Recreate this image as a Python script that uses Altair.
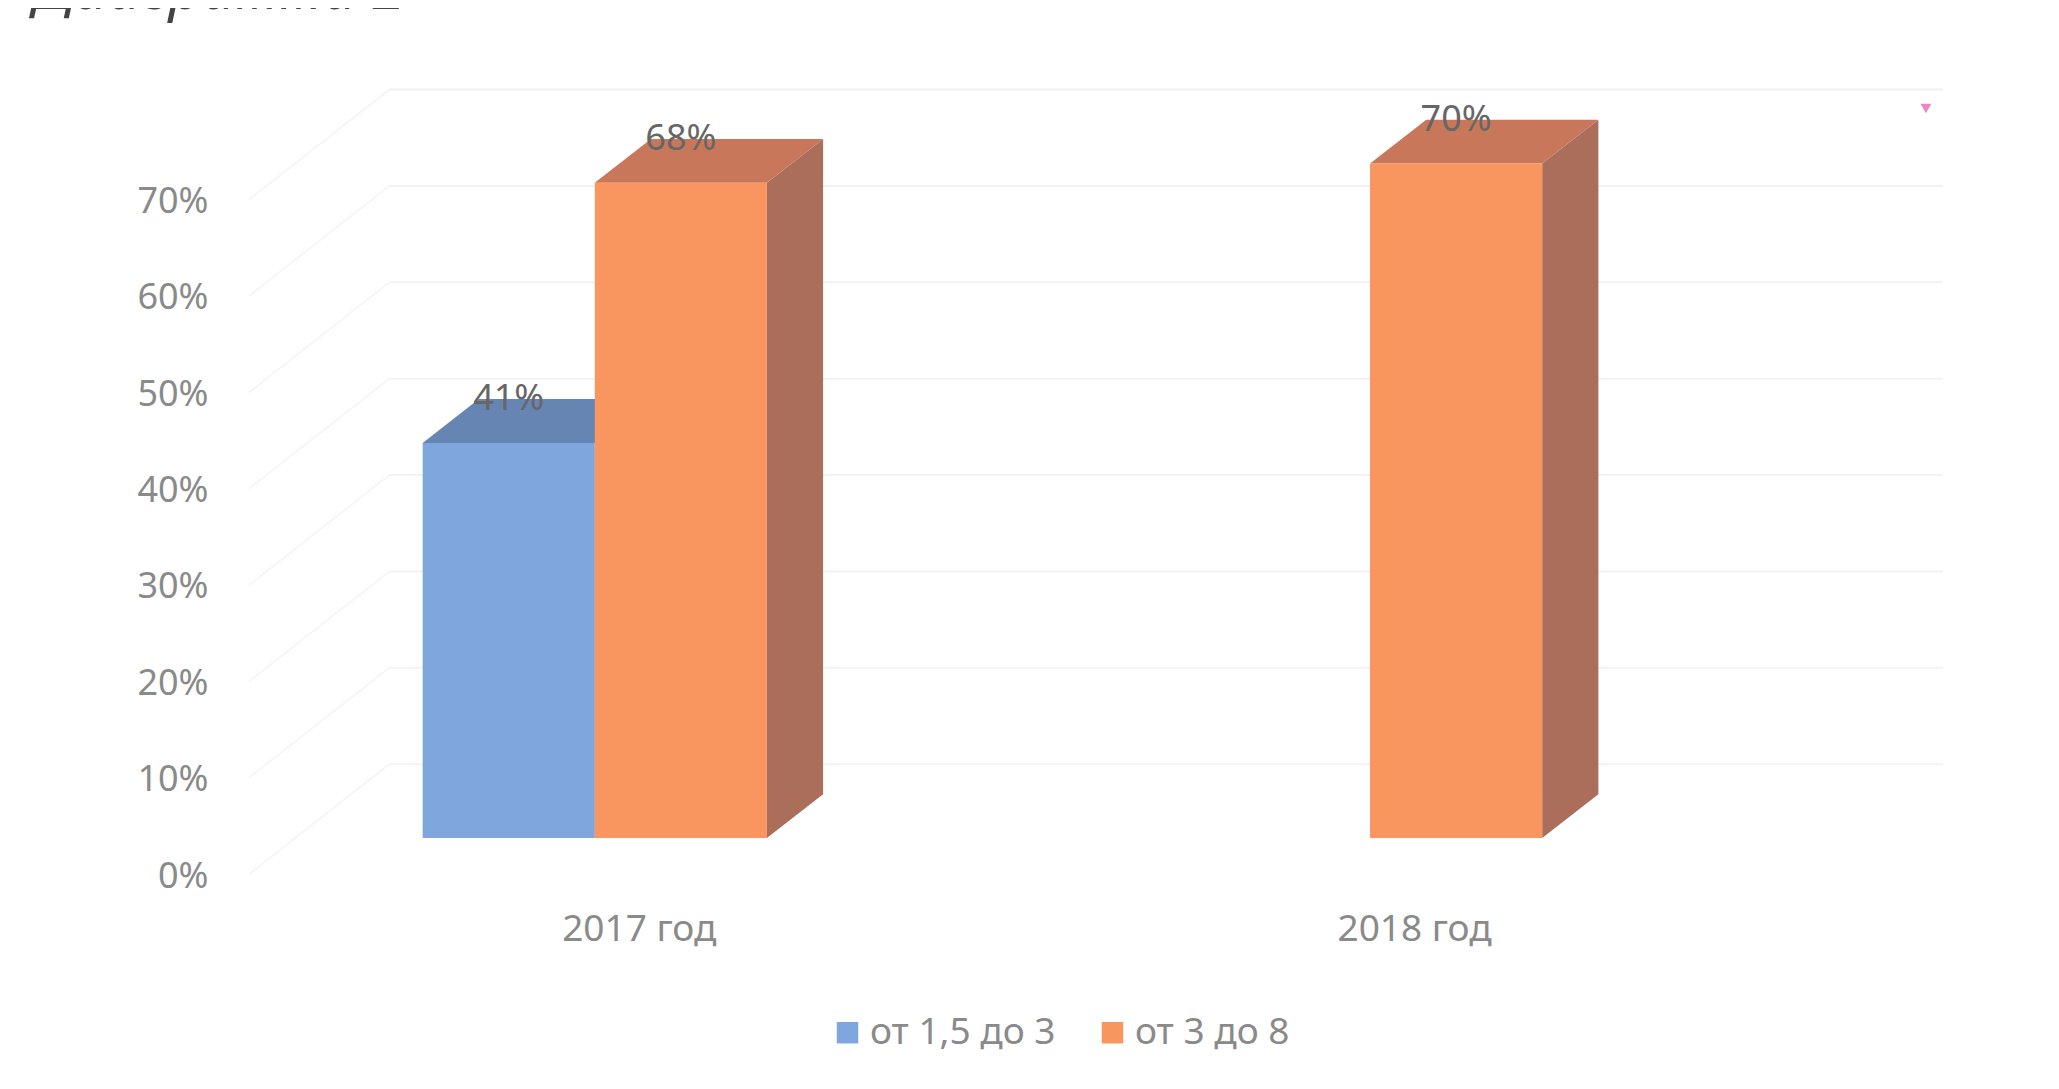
import altair as alt
import pandas as pd

years = ["2017 год", "2018 год"]
series = ["от 1,5 до 3", "от 3 до 8"]
values_a = [41, None]
values_b = [68, 70]
y_ticks = [0, 10, 20, 30, 40, 50, 60, 70]
title_text = "Диаграмма 2"
speck_x = [1.717]
speck_y = [75.7]

front_colors = ["#7fa7de", "#f9955f"]
top_colors = {"от 1,5 до 3": "#6685b2", "от 3 до 8": "#c9775a"}
side_colors = {"от 1,5 до 3": "#6685b2", "от 3 до 8": "#ab6e5a"}

# projection of the 3D box, in axis units
BAR_W = 0.222
DEPTH_X = 0.0725
DEPTH_Y = 4.55
WALL_FRONT_X = -0.446
WALL_BACK_X = -0.265
WALL_RIGHT_X = 1.739
WALL_FRONT_Y = -3.75
WALL_BACK_Y = 7.67

bars, tops, sides = [], [], []
for s_i, (name, vals) in enumerate(zip(series, [values_a, values_b])):
    for y_i, v in enumerate(vals):
        if v is None:
            continue
        l = y_i - BAR_W + s_i * BAR_W
        r = l + BAR_W
        key = f"{name}-{y_i}"
        bars.append(dict(series=name, l=l, r=r, v=v, c=(l + r) / 2, label=f"{v}%", base=0))
        tops += [
            dict(key=key, series=name, y=v, x=l, x2=r),
            dict(key=key, series=name, y=v + DEPTH_Y, x=l + DEPTH_X, x2=r + DEPTH_X),
        ]
        sides += [
            dict(key=key, series=name, x=r, y=0, y2=v),
            dict(key=key, series=name, x=r + DEPTH_X, y=DEPTH_Y, y2=v + DEPTH_Y),
        ]

bars = pd.DataFrame(bars)
tops = pd.DataFrame(tops)
sides = pd.DataFrame(sides)

grid = pd.DataFrame([dict(y=t + WALL_BACK_Y, x=WALL_BACK_X, x2=WALL_RIGHT_X) for t in y_ticks])
diag = pd.DataFrame(
    [dict(t=t, x=WALL_FRONT_X, y=t + WALL_FRONT_Y) for t in y_ticks]
    + [dict(t=t, x=WALL_BACK_X, y=t + WALL_BACK_Y) for t in y_ticks]
)

x_scale = alt.Scale(domain=[WALL_FRONT_X, WALL_RIGHT_X], nice=False, zero=False)
y_scale = alt.Scale(domain=[-6.43, 86.14], nice=False, zero=False)
FONT = "Noto Sans"

x_axis = alt.Axis(
    values=[0, 1],
    title=None,
    grid=False,
    domain=False,
    ticks=False,
    labelFont=FONT,
    labelFontSize=37,
    labelColor="#8a8a8a",
    labelPadding=11,
    labelOffset=44,
    labelExpr=f"datum.value == 0 ? '{years[0]}' : '{years[1]}'",
)
y_axis = alt.Axis(
    values=y_ticks,
    title=None,
    grid=False,
    domain=False,
    ticks=False,
    labelFont=FONT,
    labelFontSize=36,
    labelColor="#8a8a8a",
    labelPadding=41,
    labelOffset=38,
    labelExpr="datum.value + '%'",
)

X = lambda f="x": alt.X(f + ":Q", scale=x_scale, axis=x_axis)
Y = lambda f="y": alt.Y(f + ":Q", scale=y_scale, axis=y_axis)

grid_layer = alt.Chart(grid).mark_rule(color="#f2f2f2", strokeWidth=2).encode(
    x=X(), x2="x2:Q", y=Y()
)
diag_layer = alt.Chart(diag).mark_line(color="#f6f6f6", strokeWidth=2).encode(
    x=X(), y=Y(), detail="t:N"
)


def faces(name):
    t = tops[tops.series == name]
    s = sides[sides.series == name]
    top = alt.Chart(t).mark_area(orient="horizontal", color=top_colors[name]).encode(
        y=Y(), x=X(), x2="x2:Q", detail="key:N"
    )
    side = alt.Chart(s).mark_area(orient="vertical", color=side_colors[name]).encode(
        x=X(), y=Y(), y2="y2:Q", detail="key:N"
    )
    return side, top


front = alt.Chart(bars).mark_rect().encode(
    x=X("l"),
    x2="r:Q",
    y=Y("base"),
    y2="v:Q",
    color=alt.Color(
        "series:N",
        scale=alt.Scale(domain=series, range=front_colors),
        legend=alt.Legend(
            title=None,
            orient="none",
            legendX=580,
            legendY=1006,
            direction="horizontal",
            columns=2,
            columnPadding=38,
            symbolType="square",
            symbolSize=460,
            symbolStrokeWidth=0,
            labelFont=FONT,
            labelFontSize=37,
            labelColor="#8a8a8a",
            labelLimit=400,
            labelOffset=4,
        ),
    ),
)

labels = alt.Chart(bars).mark_text(
    font=FONT, fontSize=36, color="#666666", dy=-44, align="center", baseline="middle"
).encode(x=X("c"), y=Y("v"), text="label:N")

title = alt.Chart(pd.DataFrame({"t": [title_text]})).mark_text(
    font=FONT, fontSize=59, fontStyle="italic", color="#444444", align="left", baseline="alphabetic"
).encode(x=alt.value(-215), y=alt.value(1), text="t:N")

speck = alt.Chart(pd.DataFrame({"x": speck_x, "y": speck_y})).mark_point(
    shape="triangle-down", filled=True, size=120, color="#e46ab4", opacity=0.8
).encode(x=X(), y=Y())

side_a, top_a = faces(series[0])
side_b, top_b = faces(series[1])

chart = alt.layer(
    grid_layer, diag_layer, side_a, top_a, side_b, top_b, front, labels, title, speck
).properties(
    width=1694,
    height=892,
    padding={"left": 241, "top": 0, "right": 100, "bottom": 170},
    autosize=alt.AutoSizeParams(type="none"),
    background="#ffffff",
).configure_view(stroke=None)

chart.save("out.html", embed_options={"renderer": "svg", "actions": False})
